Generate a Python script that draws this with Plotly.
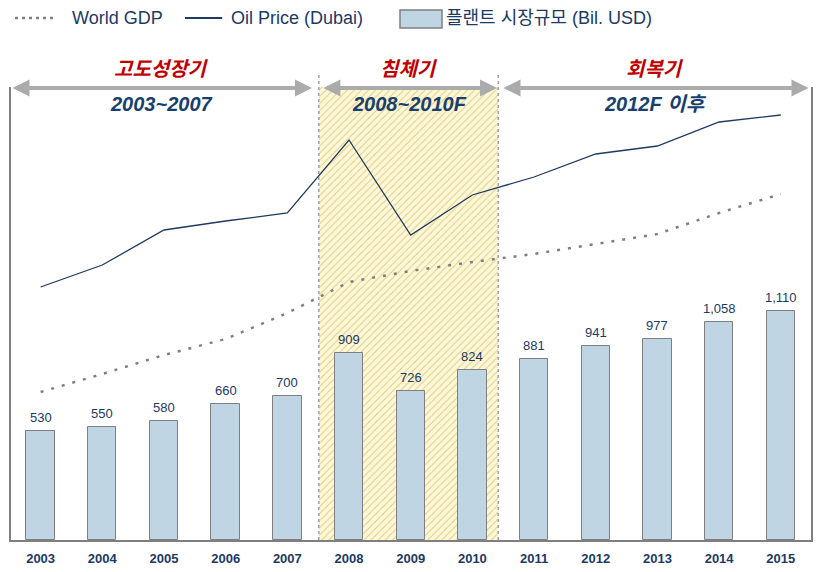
import plotly.graph_objects as go

years = [2003, 2004, 2005, 2006, 2007, 2008, 2009, 2010, 2011, 2012, 2013, 2014, 2015]
plant_market = [530, 550, 580, 660, 700, 909, 726, 824, 881, 941, 977, 1058, 1110]
# relative index levels (secondary hidden axis)
oil_price = [253, 275, 310, 319, 327, 400, 305, 345, 363, 386, 394, 418, 425]
world_gdp = [148, 166, 185, 201, 227, 258, 269, 278, 286, 296, 306, 327, 346]

period_titles = ["고도성장기", "침체기", "회복기"]
period_ranges = ["2003~2007", "2008~2010F", "2012F 이후"]
period_bounds = [(2002.52, 2007.40), (2007.56, 2010.40), (2010.48, 2015.45)]
recession_span = (2007.51, 2010.42)

NAVY = "#1b3a64"
FONT = "Liberation Sans, Arial, Noto Sans CJK KR, sans-serif"

fig = go.Figure()

# recession shaded region (hatched)
fig.add_trace(go.Bar(
    x=[(recession_span[0] + recession_span[1]) / 2], y=[2200],
    width=[recession_span[1] - recession_span[0]],
    marker=dict(color="#fff6cc", line=dict(width=0),
                pattern=dict(shape="/", fillmode="replace", bgcolor="#fff8d8",
                             fgcolor="#ddcb80", size=5, solidity=0.18)),
    hoverinfo="skip", showlegend=False,
))

fig.add_trace(go.Bar(
    x=years, y=plant_market, width=0.46,
    marker=dict(color="#c0d5e3", line=dict(color="#7f7f7f", width=1)),
    showlegend=False,
))

fig.add_trace(go.Scatter(
    x=years, y=world_gdp, yaxis="y2", mode="lines",
    line=dict(color="#808080", width=2.5, dash="3px,8px"), showlegend=False,
))
fig.add_trace(go.Scatter(
    x=years, y=oil_price, yaxis="y2", mode="lines",
    line=dict(color="#1f3a60", width=1.3), showlegend=False,
))

annotations = []
for yr, v in zip(years, plant_market):
    annotations.append(dict(x=yr, y=v, xref="x", yref="y", text=f"{v:,}",
                            showarrow=False, yanchor="bottom", yshift=4,
                            font=dict(family=FONT, size=13, color=NAVY)))

for (x0, x1), title, rng in zip(period_bounds, period_titles, period_ranges):
    annotations.append(dict(x=x1, y=2195, ax=x0, ay=2195, xref="x", yref="y",
                            axref="x", ayref="y", text="", showarrow=True,
                            arrowhead=2, arrowside="end+start", arrowsize=0.85,
                            arrowwidth=4, arrowcolor="#ababab"))
    xc = (x0 + x1) / 2
    annotations.append(dict(x=xc, y=1.0397, xref="x", yref="paper",
                            text=f"<b><i>{title}</i></b>", showarrow=False,
                            yanchor="middle", xanchor="center",
                            font=dict(family=FONT, size=20, color="#c00000")))
    annotations.append(dict(x=xc, y=0.9625, xref="x", yref="paper",
                            text=f"<b><i>{rng}</i></b>", showarrow=False,
                            yanchor="middle", xanchor="center",
                            font=dict(family=FONT, size=20, color="#17406e")))

# legend (manual)
leg_y = 1.1523
annotations += [
    dict(x=0.07375, y=leg_y, xref="paper", yref="paper", text="World GDP",
         showarrow=False, xanchor="left", yanchor="middle",
         font=dict(family=FONT, size=18, color=NAVY)),
    dict(x=0.2725, y=leg_y, xref="paper", yref="paper", text="Oil Price (Dubai)",
         showarrow=False, xanchor="left", yanchor="middle",
         font=dict(family=FONT, size=18, color=NAVY)),
    dict(x=0.541, y=leg_y, xref="paper", yref="paper", text="플랜트 시장규모 (Bil. USD)",
         showarrow=False, xanchor="left", yanchor="middle",
         font=dict(family=FONT, size=18, color=NAVY)),
]

shapes = [
    dict(type="line", xref="paper", yref="paper", x0=0.005, x1=0.055, y0=leg_y, y1=leg_y,
         line=dict(color="#808080", width=2.5, dash="3px,4px")),
    dict(type="line", xref="paper", yref="paper", x0=0.2175, x1=0.264, y0=leg_y, y1=leg_y,
         line=dict(color="#1f3a60", width=2)),
    dict(type="rect", xref="paper", yref="paper", x0=0.48625, x1=0.53875, y0=1.1302, y1=1.170,
         fillcolor="#c0d5e3", line=dict(color="#7f7f7f", width=1.5)),
]
for xb in recession_span:
    shapes.append(dict(type="line", xref="x", yref="paper", x0=xb, x1=xb, y0=0, y1=1.03,
                       line=dict(color="#a0a0a0", width=1.5, dash="dot")))

fig.update_layout(
    width=818, height=572,
    margin=dict(l=11, r=7, t=87, b=32, autoexpand=False),
    paper_bgcolor="white", plot_bgcolor="white",
    barmode="overlay", bargap=0,
    font=dict(family=FONT),
    showlegend=False,
    xaxis=dict(range=[2002.52, 2015.49], tickvals=years, ticktext=[str(y) for y in years],
               tickfont=dict(family=FONT, size=13, color=NAVY, weight="bold"),
               ticks="outside", ticklen=6, tickcolor="rgba(0,0,0,0)", automargin=False,
               showline=True, linecolor="#7f7f7f", linewidth=1.5, showgrid=False, zeroline=False),
    yaxis=dict(range=[0, 2200], showticklabels=False, showgrid=False, zeroline=False,
               automargin=False,
               showline=True, linecolor="#7f7f7f", linewidth=1.5, ticks=""),
    yaxis2=dict(range=[0, 453], overlaying="y", side="right", showticklabels=False,
                automargin=False,
                showgrid=False, zeroline=False, showline=True, linecolor="#7f7f7f",
                linewidth=1.5, ticks=""),
    annotations=annotations,
    shapes=shapes,
)

fig.write_html("out.html", config={"displayModeBar": False},
               post_script="document.body.style.margin='0px';")
